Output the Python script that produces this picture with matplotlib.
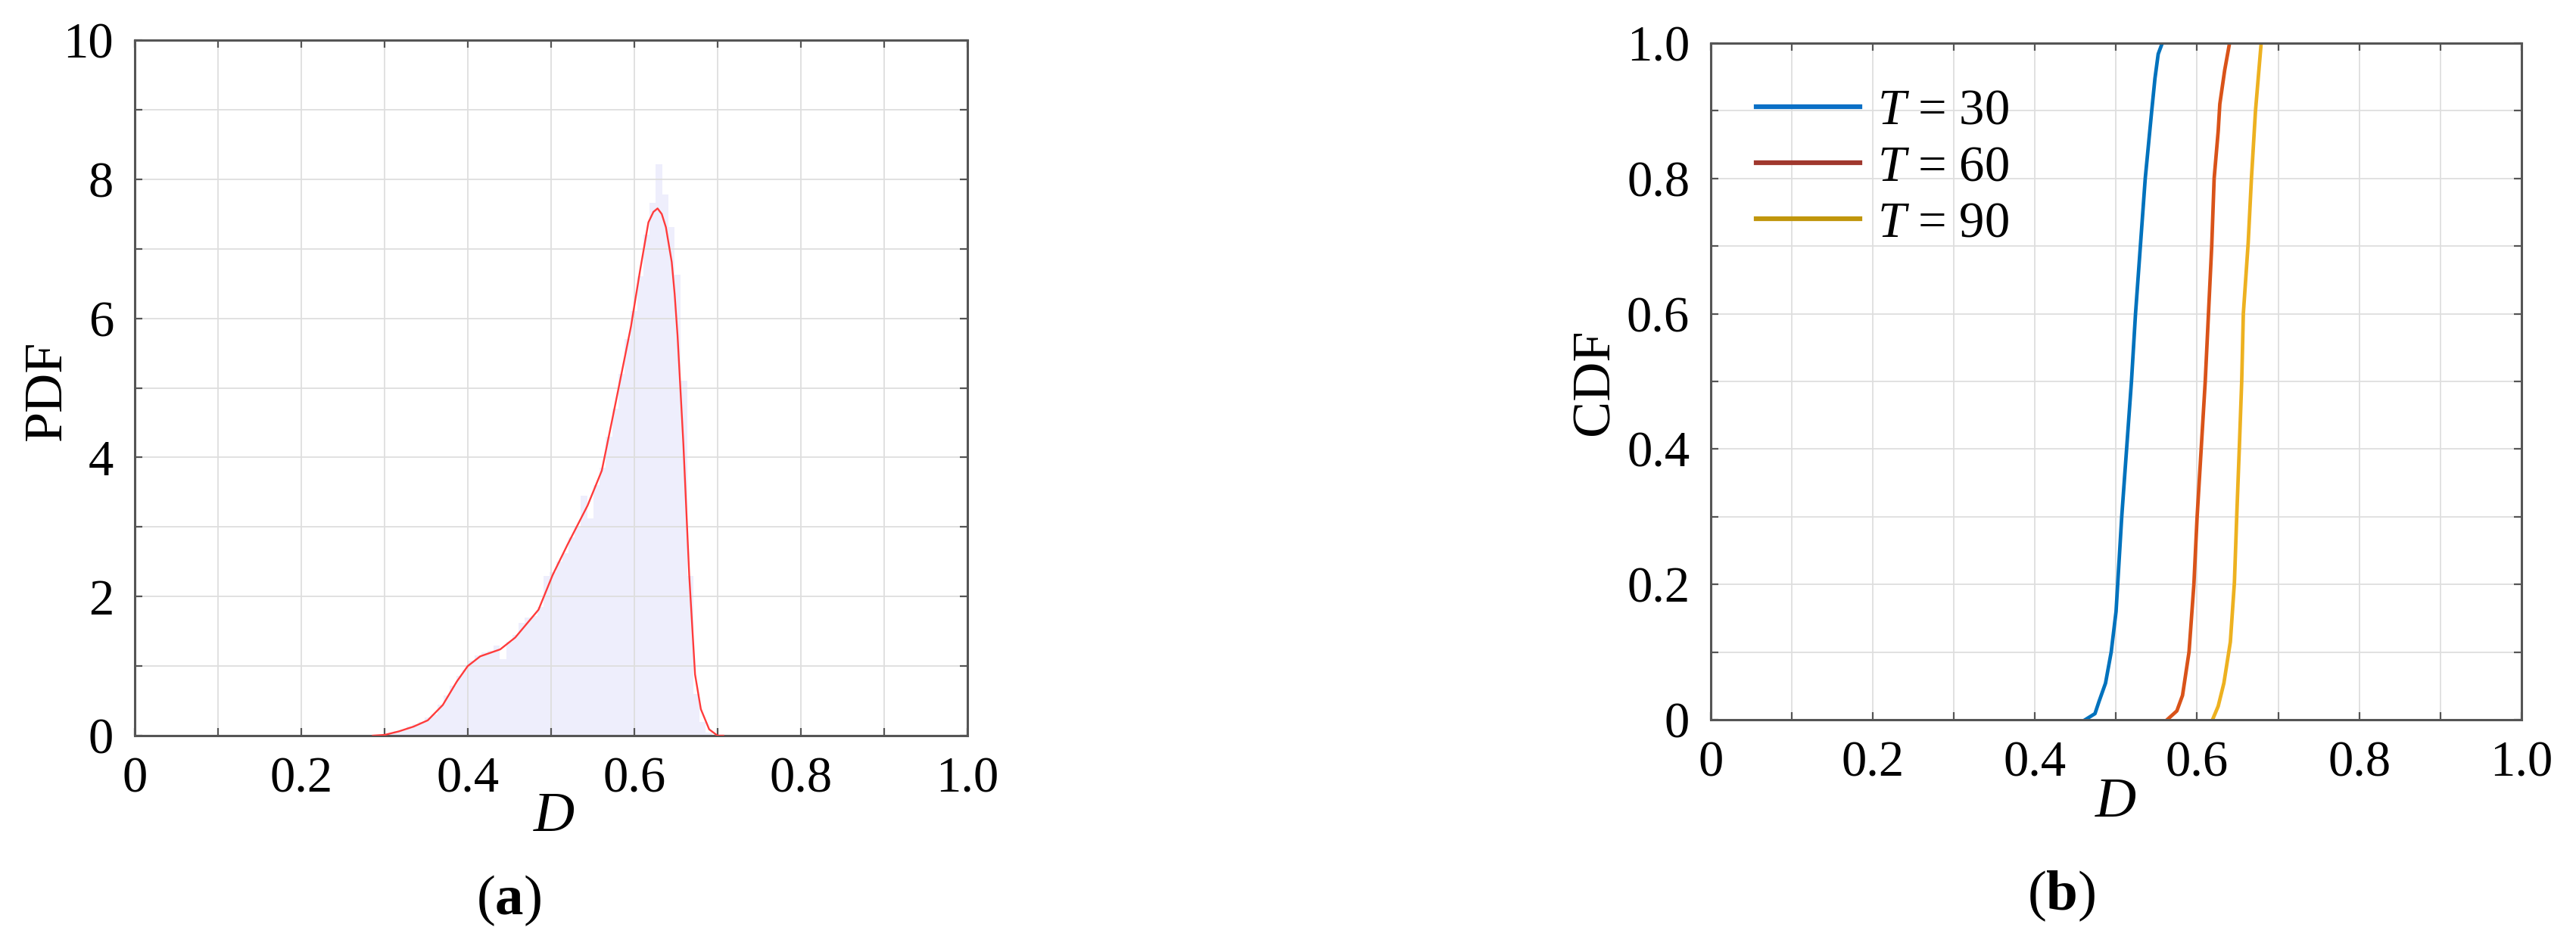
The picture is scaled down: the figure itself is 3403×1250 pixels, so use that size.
import numpy as np
import matplotlib.pyplot as plt
from matplotlib.lines import Line2D

plt.rcParams['font.family'] = 'Liberation Serif'
plt.rcParams['mathtext.fontset'] = 'custom'
plt.rcParams['mathtext.rm'] = 'Liberation Serif'
plt.rcParams['mathtext.it'] = 'Liberation Serif:italic'
plt.rcParams['mathtext.bf'] = 'Liberation Serif:bold'

# (a) histogram of D, bins of width 0.0075 starting at 0.3035
bin_start = 0.3035
bin_width = 0.0075
hist_heights = [0.02, 0.06, 0.08, 0.13, 0.16, 0.20, 0.26, 0.30, 0.45, 0.58,
                0.72, 0.86, 0.95, 1.08, 1.15, 1.20, 1.22, 1.30, 1.10, 1.35,
                1.45, 1.62, 1.70, 1.72, 1.85, 2.30, 2.35, 2.50, 2.62, 2.85,
                3.00, 3.45, 3.12, 3.60, 3.85, 4.30, 4.70, 5.20, 5.70, 6.10,
                6.60, 7.20, 7.66, 8.22, 7.78, 7.31, 6.63, 5.10, 2.30, 0.60,
                0.20, 0.04]

# (a) fitted density curve
kde_x = [0.286, 0.300, 0.317, 0.335, 0.352, 0.370, 0.387, 0.400, 0.415, 0.439,
         0.457, 0.485, 0.502, 0.520, 0.544, 0.561, 0.575, 0.596, 0.607, 0.617,
         0.623, 0.628, 0.633, 0.638, 0.645, 0.6485, 0.652, 0.659, 0.666, 0.673,
         0.680, 0.690, 0.700, 0.707]
kde_y = [0.0, 0.01, 0.06, 0.13, 0.22, 0.44, 0.78, 1.00, 1.14, 1.24,
         1.41, 1.81, 2.31, 2.75, 3.31, 3.81, 4.63, 5.88, 6.69, 7.38,
         7.53, 7.58, 7.50, 7.31, 6.81, 6.35, 5.75, 4.19, 2.31, 0.88,
         0.38, 0.09, 0.0, 0.0]

# (b) empirical CDFs
d_30 = [0.462, 0.474, 0.479, 0.487, 0.494, 0.500, 0.502, 0.507, 0.513, 0.519,
        0.524, 0.530, 0.536, 0.544, 0.548, 0.552, 0.557]
f_30 = [0.0, 0.009, 0.027, 0.054, 0.10, 0.16, 0.20, 0.30, 0.40, 0.50,
        0.60, 0.70, 0.80, 0.90, 0.948, 0.984, 1.0]
d_60 = [0.563, 0.575, 0.582, 0.590, 0.596, 0.600, 0.605, 0.610, 0.614, 0.618,
        0.621, 0.626, 0.628, 0.634, 0.640]
f_60 = [0.0, 0.013, 0.036, 0.10, 0.20, 0.30, 0.40, 0.50, 0.60, 0.70,
        0.80, 0.87, 0.91, 0.96, 1.0]
d_90 = [0.619, 0.626, 0.633, 0.641, 0.646, 0.649, 0.652, 0.655, 0.657, 0.663,
        0.667, 0.672, 0.679]
f_90 = [0.0, 0.02, 0.054, 0.115, 0.203, 0.305, 0.40, 0.50, 0.60, 0.705,
        0.80, 0.90, 1.0]
labels = [r'$T$ = 30', r'$T$ = 60', r'$T$ = 90']
line_colors = ['#0072BD', '#D95319', '#EDB120']
legend_colors = ['#0A70C6', '#A0382E', '#C0960C']

x_ticklabels = ['0', '', '0.2', '', '0.4', '', '0.6', '', '0.8', '', '1.0']
pdf_ticklabels = ['0', '', '2', '', '4', '', '6', '', '8', '', '10']
cdf_ticklabels = ['0', '', '0.2', '', '0.4', '', '0.6', '', '0.8', '', '1.0']

FS = 48


def style(ax):
    ax.grid(True, color='#DEDEDE', linewidth=1.3)
    ax.set_axisbelow('line')
    for s in ax.spines.values():
        s.set_color('#555555')
        s.set_linewidth(2.2)
    ax.tick_params(direction='in', length=7, width=1.6, color='#555555',
                   top=True, right=True, labelsize=FS, pad=20)


fig = plt.figure(figsize=(34.03, 12.5), dpi=100)

# ---- (a) PDF
ax1 = fig.add_axes([0.0523, 0.2224, 0.3232, 0.7352])
centers = bin_start + bin_width / 2 + bin_width * np.arange(len(hist_heights))
ax1.bar(centers, hist_heights, width=bin_width, color='#EEEEFC', linewidth=0)
ax1.plot(kde_x, kde_y, color='#FF3B3B', linewidth=1.7, zorder=3)
ax1.set_xlim(0, 1)
ax1.set_ylim(0, 10)
ax1.set_xticks(np.arange(0, 1.01, 0.1))
ax1.set_xticklabels(x_ticklabels)
ax1.set_yticks(np.arange(0, 10.1, 1))
ax1.set_yticklabels(pdf_ticklabels)
style(ax1)
ax1.set_ylabel('PDF', fontsize=52)
ax1.yaxis.set_label_coords(-0.105, 0.496)
ax1.set_xlabel(r'$D$', fontsize=54)
ax1.xaxis.set_label_coords(0.504, -0.1175)
ax1.xaxis.label.set_va('center')
ax1.yaxis.label.set_va('center')

# ---- (b) CDF
ax2 = fig.add_axes([0.6641, 0.2392, 0.3147, 0.7152])
for d, f, c in zip([d_30, d_60, d_90], [f_30, f_60, f_90], line_colors):
    ax2.plot(d, f, color=c, linewidth=3.4)
ax2.set_xlim(0, 1)
ax2.set_ylim(0, 1)
ax2.set_xticks(np.arange(0, 1.01, 0.1))
ax2.set_xticklabels(x_ticklabels)
ax2.set_yticks(np.arange(0, 1.01, 0.1))
ax2.set_yticklabels(cdf_ticklabels)
style(ax2)
ax2.set_ylabel('CDF', fontsize=52)
ax2.yaxis.set_label_coords(-0.143, 0.499)
ax2.set_xlabel(r'$D$', fontsize=54)
ax2.xaxis.set_label_coords(0.5, -0.123)
ax2.xaxis.label.set_va('center')
ax2.yaxis.label.set_va('center')

handles = [Line2D([], [], color=c, linewidth=4.5) for c in legend_colors]
ax2.legend(handles, labels, loc='upper left', frameon=False, fontsize=FS,
           handlelength=2.05, handletextpad=0.35, labelspacing=0.2,
           borderaxespad=0.5, borderpad=0.4)

fig.text(0.1975, 0.048, r'($\mathbf{a}$)', fontsize=54, ha='center', va='center')
fig.text(0.8002, 0.0528, r'($\mathbf{b}$)', fontsize=54, ha='center', va='center')

fig.savefig('out.png', dpi=100)
